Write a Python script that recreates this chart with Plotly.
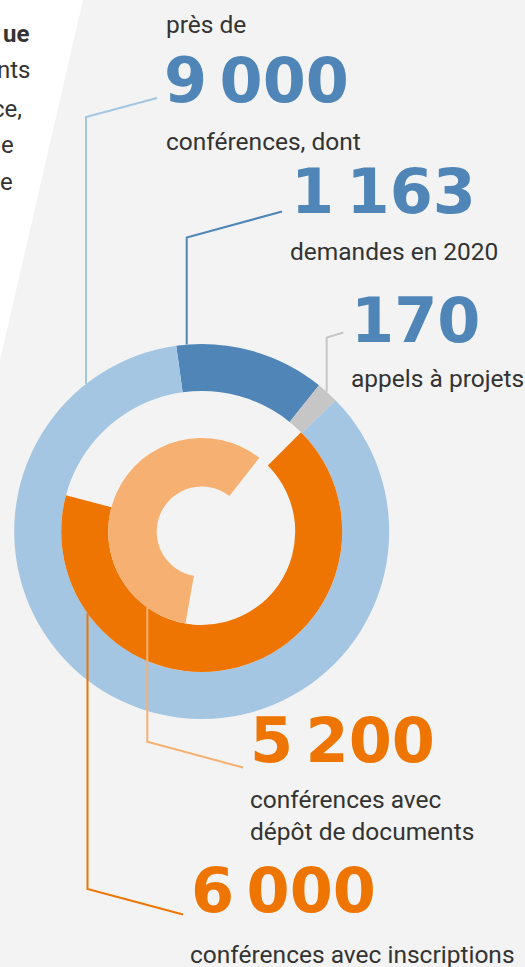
import math
import plotly.graph_objects as go

# figure size in px (page is photographed at 525x967)
W, H = 525, 967

# data
total_conf = 9000
outer_labels = ["demandes en 2020", "appels à projets", "autres conférences"]
outer_values = [1163, 170, total_conf - 1163 - 170]
outer_colors = ["#4F86B7", "#C6C6C6", "#A4C6E2"]

mid_labels = ["conférences avec inscriptions", "sans"]
mid_values = [6000, total_conf - 6000]
mid_colors = ["#EE7502", "rgba(0,0,0,0)"]

inner_labels = ["conférences avec dépôt de documents", "sans"]
inner_values = [5200, total_conf - 5200]
inner_colors = ["#F6B071", "rgba(0,0,0,0)"]

# ring geometry (px)
cx, cy = 201.7, 531.5
r_outer, r_mid, r_inner, r_hole = 187.5, 140.5, 93.5, 45

BG = "#F3F3F3"
TXT = "#333333"
BODY = "Roboto"
NUM = "DejaVu Sans"


def fx(px):
    return px / W


def fy(py):
    return 1 - py / H


def domain(r):
    return dict(x=[fx(cx - r), fx(cx + r)], y=[fy(cy + r), fy(cy - r)])


fig = go.Figure()
rings = [
    (outer_labels, outer_values, outer_colors, r_outer, r_mid / r_outer, -7.8),
    (mid_labels, mid_values, mid_colors, r_mid, r_inner / r_mid, 45),
    (inner_labels, inner_values, inner_colors, r_inner, r_hole / r_inner, 190),
]
for labels, values, colors, r, hole, rot in rings:
    fig.add_trace(go.Pie(
        labels=labels, values=values, hole=hole, rotation=rot,
        direction="clockwise", sort=False, textinfo="none",
        hoverinfo="skip", showlegend=False, domain=domain(r),
        marker=dict(colors=colors, line=dict(width=0)),
    ))


def ring_y(x, r, top=True):
    dy = math.sqrt(r ** 2 - (x - cx) ** 2)
    return cy - dy if top else cy + dy


def leader(color, x, r, top, elbow_y, end):
    y0 = ring_y(x, r, top)
    path = "M {} {} L {} {} L {} {}".format(
        fx(x), fy(y0), fx(x), fy(elbow_y), fx(end[0]), fy(end[1]))
    fig.add_shape(type="path", path=path, xref="paper", yref="paper",
                  line=dict(color=color, width=2), layer="above")


leader("#A4C6E2", 86, r_outer, True, 117, (157, 98))
leader("#4F86B7", 186.7, r_outer, True, 237.5, (282, 211.5))
leader("#C6C6C6", 326.7, r_outer, True, 337.5, (343.5, 332.5))
leader("#F6B071", 147.3, r_inner, False, 741.7, (243, 767.5))
leader("#EE7502", 87.5, r_mid, False, 889, (183, 914.5))

# white diagonal panel on the left
fig.add_shape(type="path", xref="paper", yref="paper", layer="below",
              path="M 0 1 L {} 1 L 0 {} Z".format(fx(83), fy(360)),
              fillcolor="white", line=dict(width=0))


def label(text, x, y, size, color=TXT, family=BODY, weight="normal",
          xanchor="left"):
    fig.add_annotation(text=text, x=fx(x), y=fy(y), xref="paper", yref="paper",
                       xanchor=xanchor, yanchor="middle", showarrow=False,
                       font=dict(size=size, color=color, family=family,
                                 weight=weight))


# cut-off text from the neighbouring panel
label("<b>ue</b>", 31, 33.6, 24, xanchor="right")
label("nts", 33, 69.6, 24, xanchor="right")
label("ce,", 24, 108.6, 24, xanchor="right")
label("e", 16, 144.6, 24, xanchor="right")
label("e", 15, 181.6, 24, xanchor="right")

blue, orange = "#4F86B7", "#EE7502"
sp = "\u2009"
label("près de", 164, 24.6, 24.5)
label("9" + sp + "000", 162, 80, 62, blue, NUM, "bold")
label("conférences, dont", 164, 141.6, 24.5)
label("1" + sp + "163", 289, 191, 62, blue, NUM, "bold")
label("demandes en 2020", 288, 251.6, 24.5)
label("170", 349, 320, 62, blue, NUM, "bold")
label("appels à projets", 349, 378.6, 24.5)
label("5" + sp + "200", 248, 740, 62, orange, NUM, "bold")
label("conférences avec", 248, 799.6, 24.5)
label("dépôt de documents", 248, 831.6, 24.5)
label("6" + sp + "000", 189, 890, 62, orange, NUM, "bold")
label("conférences avec inscriptions", 188, 954.6, 24.5)

fig.update_layout(
    width=W, height=H, autosize=False,
    margin=dict(l=0, r=0, t=0, b=0),
    paper_bgcolor=BG, plot_bgcolor=BG,
)

# drop the default 8px body margin so the figure fills the window
fig.write_html("out.html", config={"displayModeBar": False},
               post_script="document.body.style.margin='0';")
